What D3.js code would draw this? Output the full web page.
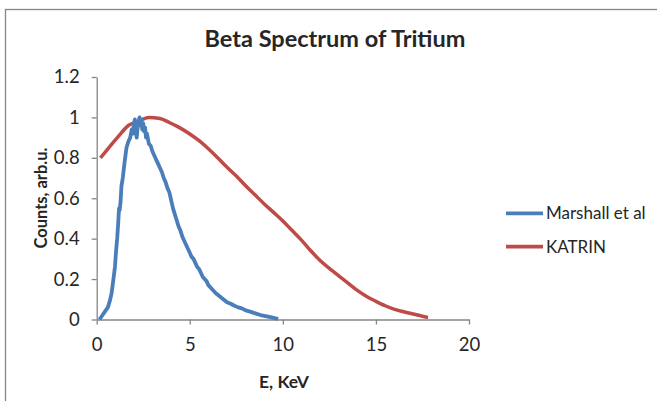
<!DOCTYPE html>
<html>
<head>
<meta charset="utf-8">
<script src="https://cdn.jsdelivr.net/npm/d3@7"></script>
<style>
  body { margin: 0; background: #fff; }
  text { font-family: Lato, "Open Sans", sans-serif; fill: #262626; }
</style>
</head>
<body>
<div id="chart"></div>
<script>
//Values
const marshallE = [0.15, 0.3, 0.45, 0.6, 0.7, 0.8, 0.9, 0.98, 1.05, 1.1, 1.15, 1.2, 1.23, 1.28, 1.33, 1.4, 1.5, 1.6, 1.7, 1.8,
  1.88, 1.95, 2.0, 2.05, 2.1, 2.15, 2.2, 2.25, 2.3, 2.35, 2.4, 2.45, 2.5, 2.55, 2.6, 2.65, 2.7, 2.8, 2.9, 3.0,
  3.1, 3.2, 3.3, 3.4, 3.5, 3.6, 3.7, 3.8, 3.9, 4.0, 4.1, 4.2, 4.3, 4.4, 4.5, 4.6, 4.7, 4.8, 4.9, 5.0,
  5.1, 5.2, 5.3, 5.4, 5.5, 5.6, 5.7, 5.8, 5.9, 6.0, 6.2, 6.4, 6.6, 6.8, 7.0, 7.2, 7.4, 7.6, 7.8, 8.0,
  8.2, 8.4, 8.6, 8.8, 9.0, 9.2, 9.4, 9.6, 9.75]
const marshallCounts = [0.0, 0.02, 0.04, 0.06, 0.09, 0.13, 0.2, 0.26, 0.35, 0.4, 0.47, 0.55, 0.54, 0.58, 0.66, 0.7, 0.78, 0.85, 0.88, 0.9,
  0.94, 0.92, 0.97, 0.99, 0.93, 0.9, 0.95, 0.98, 1.0, 0.96, 0.99, 0.94, 0.97, 0.93, 0.95, 0.9, 0.92, 0.87, 0.86, 0.83,
  0.81, 0.79, 0.77, 0.75, 0.73, 0.7, 0.68, 0.65, 0.63, 0.59, 0.55, 0.52, 0.49, 0.46, 0.44, 0.41, 0.39, 0.37, 0.35, 0.33,
  0.31, 0.3, 0.28, 0.26, 0.25, 0.23, 0.21, 0.2, 0.19, 0.17, 0.15, 0.13, 0.115, 0.1, 0.085, 0.078, 0.068, 0.06, 0.055, 0.045,
  0.04, 0.034, 0.028, 0.022, 0.018, 0.014, 0.01, 0.006, 0.003]

const katrinE = [0.2, 0.7, 1.2, 1.7, 2.2, 2.8, 3.4, 3.9, 4.4, 5.0, 5.5, 6.0, 6.5, 7.0, 7.5, 8.0, 8.5, 9.0, 9.5, 10.0,
  10.5, 11.0, 11.5, 12.0, 12.5, 13.0, 13.5, 14.0, 14.5, 15.0, 15.5, 16.0, 16.5, 17.0, 17.5, 17.8]
const katrinCounts = [0.8, 0.855, 0.91, 0.96, 0.978, 1.0, 0.995, 0.975, 0.952, 0.918, 0.885, 0.845, 0.8, 0.753, 0.71, 0.662, 0.617, 0.572, 0.53, 0.487,
  0.44, 0.393, 0.34, 0.292, 0.253, 0.216, 0.18, 0.144, 0.114, 0.09, 0.068, 0.05, 0.038, 0.027, 0.016, 0.01]

const xTicks = [0, 5, 10, 15, 20]
const yTicks = [0, 0.2, 0.4, 0.6, 0.8, 1, 1.2]
const seriesNames = ['Marshall et al', 'KATRIN']
const seriesColors = ['#4A7EBB', '#BE4B48']

const width = 657
const height = 401
const axisColor = '#868686'

let svg = d3.select('#chart')
            .append('svg')
            .attr('width', width)
            .attr('height', height)

//Outer chart frame, runs past the right and bottom edges
svg.append('rect')
   .attr('x', 5.5)
   .attr('y', 9.5)
   .attr('width', 700)
   .attr('height', 500)
   .attr('fill', '#fff')
   .attr('stroke', axisColor)
   .attr('stroke-width', 1.3)

let xScale = d3.scaleLinear()
               .domain([0, 20])
               .range([96.7, 469])

let yScale = d3.scaleLinear()
               .domain([0, 1.2])
               .range([319.5, 77])

let xAxis = d3.axisBottom(xScale)
              .tickValues(xTicks)
              .tickSize(5)
              .tickSizeOuter(0)
              .tickPadding(13)
              .tickFormat(d3.format('d'))

let yAxis = d3.axisLeft(yScale)
              .tickValues(yTicks)
              .tickSize(5)
              .tickSizeOuter(0)
              .tickPadding(12)
              .tickFormat(d => String(+d.toFixed(1)))

let gx = svg.append('g')
            .attr('transform', 'translate(0,' + yScale(0) + ')')
            .call(xAxis)

let gy = svg.append('g')
            .attr('transform', 'translate(' + xScale(0) + ',0)')
            .call(yAxis)

svg.selectAll('.domain, .tick line')
   .attr('stroke', axisColor)
   .attr('stroke-width', 1.3)
svg.selectAll('.tick text')
   .style('font-size', '18.5px')
   .style('font-family', 'Lato, sans-serif')
   .attr('fill', '#262626')

//Curves
let line = d3.line()
             .x(d => xScale(d[0]))
             .y(d => yScale(d[1]))

let series = [
  d3.zip(marshallE, marshallCounts),
  d3.zip(katrinE, katrinCounts)
]

svg.append('path')
   .datum(series[1])
   .attr('fill', 'none')
   .attr('stroke', seriesColors[1])
   .attr('stroke-width', 3.5)
   .attr('stroke-linejoin', 'round')
   .attr('d', line.curve(d3.curveMonotoneX))

svg.append('path')
   .datum(series[0])
   .attr('fill', 'none')
   .attr('stroke', seriesColors[0])
   .attr('stroke-width', 3.8)
   .attr('stroke-linejoin', 'round')
   .attr('d', line.curve(d3.curveLinear))

//Title and axis titles
svg.append('text')
   .attr('x', 335)
   .attr('y', 47)
   .attr('text-anchor', 'middle')
   .style('font-size', '23.5px')
   .style('font-weight', 'bold')
   .text('Beta Spectrum of Tritium')

svg.append('text')
   .attr('transform', 'translate(47,198) rotate(-90)')
   .attr('text-anchor', 'middle')
   .style('font-size', '16.5px')
   .style('font-weight', 'bold')
   .text('Counts, arb.u.')

svg.append('text')
   .attr('x', 284)
   .attr('y', 388)
   .attr('text-anchor', 'middle')
   .style('font-size', '17.5px')
   .style('font-weight', 'bold')
   .text('E, KeV')

//Legend
let legend = svg.selectAll('.legend')
                .data(seriesNames)
                .enter()
                .append('g')
                .attr('class', 'legend')
                .attr('transform', (d, i) => 'translate(506,' + (213.3 + i * 33.4) + ')')

legend.append('line')
      .attr('x1', 0)
      .attr('x2', 37)
      .attr('stroke', (d, i) => seriesColors[i])
      .attr('stroke-width', 3.8)

legend.append('text')
      .attr('x', 40)
      .attr('y', 6)
      .style('font-size', '17px')
      .text(d => d)
</script>
</body>
</html>
